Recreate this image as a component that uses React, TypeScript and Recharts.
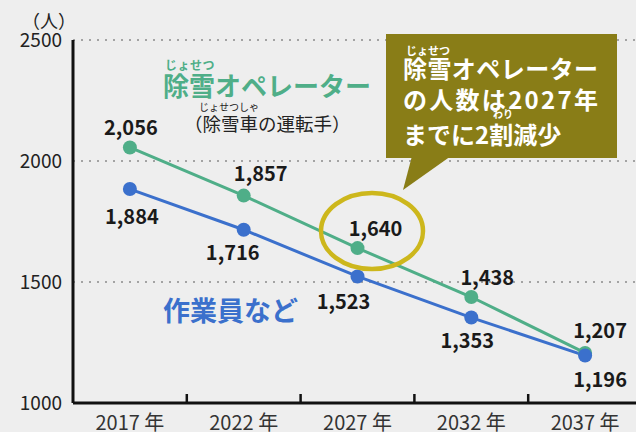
import React from "react";
import { LineChart, Line, XAxis, YAxis, CartesianGrid, LabelList } from "recharts";

const categories = ["2017 年", "2022 年", "2027 年", "2032 年", "2037 年"];
const operators = [2056, 1857, 1640, 1438, 1207];
const workers = [1884, 1716, 1523, 1353, 1196];
const yTicks = [1000, 1500, 2000, 2500];

const data = categories.map((c, i) => ({ year: c, operators: operators[i], workers: workers[i] }));

const W = 642;
const H = 432;
const YW = 73;
const FONT = "'Noto Sans CJK JP', 'Noto Sans', sans-serif";
const GREEN = "#4fae88";
const BLUE = "#3b70cc";
const OLIVE = "#897d17";
const YELLOW = "#cdb71c";

// label placement (center offsets from dot)
const greenLabelOffset = [[1, -21], [17, -23], [18, -21], [16, -21], [15, -23]];
const blueLabelOffset = [[2, 26], [-11, 22], [-14, 24], [-4, 22], [15, 23]];

const bandWidth = (W - YW) / categories.length;

const XTick = (props: any) => {
  const { x, y, payload, index } = props;
  return (
    <g>
      {index > 0 && (
        <line x1={x - bandWidth / 2} x2={x - bandWidth / 2} y1={y} y2={y - 9} stroke="#111" strokeWidth={2.5} />
      )}
      <text x={x} y={y + 18} textAnchor="middle" dominantBaseline="central" fontSize={20} fill="#333" fontFamily={FONT}>
        {payload.value}
      </text>
    </g>
  );
};

const makeLabel = (offsets: number[][]) => (props: any) => {
  const { x, y, value, index } = props;
  const [dx, dy] = offsets[index] || [0, 0];
  return (
    <text
      x={x + dx}
      y={y + dy}
      textAnchor="middle"
      dominantBaseline="central"
      fontSize={20}
      fontWeight={700}
      fill="#1a1a1a"
      fontFamily={FONT}
    >
      {Number(value).toLocaleString("en-US")}
    </text>
  );
};

export default function App() {
  return (
    <div style={{ position: "absolute", left: 0, top: 0, width: 636, height: 432, overflow: "hidden", background: "#eeeeee" }}>
      <LineChart width={W} height={H} data={data} margin={{ top: 40, right: 0, bottom: 0, left: 0 }}>
        <CartesianGrid vertical={false} stroke="#8a8a8a" strokeDasharray="2 6" strokeWidth={1.5} />
        <XAxis
          dataKey="year"
          height={29}
          tickSize={0}
          tickMargin={0}
          padding={{ left: bandWidth / 2, right: bandWidth / 2 }}
          axisLine={{ stroke: "#111", strokeWidth: 3 }}
          tickLine={false}
          tick={<XTick />}
          interval={0}
        />
        <YAxis
          width={YW}
          domain={[1000, 2500]}
          ticks={yTicks}
          type="number"
          tickSize={0}
          tickMargin={11}
          axisLine={{ stroke: "#111", strokeWidth: 3 }}
          tickLine={false}
          tick={{ fontSize: 19, fill: "#222", fontFamily: FONT }}
        />
        <Line
          dataKey="operators"
          stroke={GREEN}
          strokeWidth={3}
          dot={{ r: 7, fill: GREEN, stroke: "none" }}
          isAnimationActive={false}
        >
          <LabelList dataKey="operators" content={makeLabel(greenLabelOffset)} />
        </Line>
        <Line
          dataKey="workers"
          stroke={BLUE}
          strokeWidth={3}
          dot={{ r: 7, fill: BLUE, stroke: "none" }}
          isAnimationActive={false}
        >
          <LabelList dataKey="workers" content={makeLabel(blueLabelOffset)} />
        </Line>
      </LineChart>
      <svg width={636} height={432} style={{ position: "absolute", left: 0, top: 0, pointerEvents: "none" }} fontFamily={FONT}>
        <text x={49} y={20} textAnchor="middle" dominantBaseline="central" fontSize={18} fill="#222">（人）</text>
        {/* green title */}
        <text x={165} y={64} dominantBaseline="central" fontSize={12} fontWeight={700} fill={GREEN} letterSpacing={0.5}>じょせつ</text>
        <text x={163} y={84} dominantBaseline="central" fontSize={26} fontWeight={700} fill={GREEN}>除雪オペレーター</text>
        <text x={199} y={106} dominantBaseline="central" fontSize={10} fill="#222">じょせつしゃ</text>
        <text x={184} y={123} dominantBaseline="central" fontSize={18.5} fill="#222">（除雪車の運転手）</text>
        {/* blue label */}
        <text x={163} y={309} dominantBaseline="central" fontSize={27} fontWeight={700} fill={BLUE}>作業員など</text>
        {/* ellipse */}
        <ellipse cx={372} cy={231} rx={51} ry={38} fill="none" stroke={YELLOW} strokeWidth={4.5} />
        {/* callout */}
        <rect x={386} y={34} width={231} height={124} fill={OLIVE} />
        <polygon points="412,156 451,156 403,190" fill={OLIVE} />
        <text x={406} y={50} dominantBaseline="central" fontSize={11} fontWeight={700} fill="#fff">じょせつ</text>
        <text x={403} y={67} dominantBaseline="central" fontSize={24} fontWeight={700} fill="#fff" textLength={195} lengthAdjust="spacing">除雪オペレーター</text>
        <text x={403} y={98} dominantBaseline="central" fontSize={24} fontWeight={700} fill="#fff" textLength={195} lengthAdjust="spacing">の人数は2027年</text>
        <text x={493} y={113} dominantBaseline="central" fontSize={10} fontWeight={700} fill="#fff">わり</text>
        <text x={403} y={133} dominantBaseline="central" fontSize={24} fontWeight={700} fill="#fff">までに2割減少</text>
      </svg>
    </div>
  );
}
